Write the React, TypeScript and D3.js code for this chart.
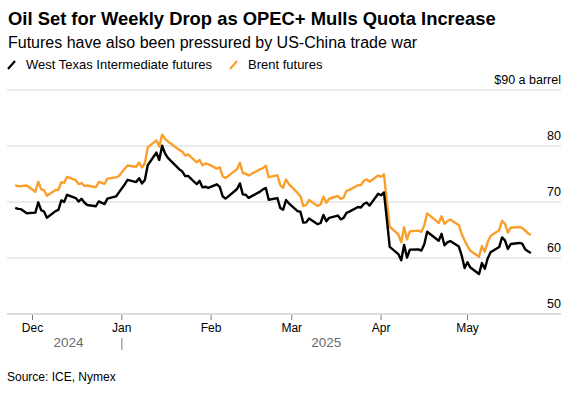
import React from "react";
import * as d3 from "d3";

// trading days, Nov 25 2024 - May 23 2025
const dates: string[] = [
  "2024-11-25", "2024-11-26", "2024-11-27", "2024-11-29",
  "2024-12-02", "2024-12-03", "2024-12-04", "2024-12-05", "2024-12-06",
  "2024-12-09", "2024-12-10", "2024-12-11", "2024-12-12", "2024-12-13",
  "2024-12-16", "2024-12-17", "2024-12-18", "2024-12-19", "2024-12-20",
  "2024-12-23", "2024-12-24", "2024-12-26", "2024-12-27", "2024-12-30", "2024-12-31",
  "2025-01-02", "2025-01-03", "2025-01-06", "2025-01-07", "2025-01-08", "2025-01-09", "2025-01-10",
  "2025-01-13", "2025-01-14", "2025-01-15", "2025-01-16", "2025-01-17",
  "2025-01-21", "2025-01-22", "2025-01-23", "2025-01-24",
  "2025-01-27", "2025-01-28", "2025-01-29", "2025-01-30", "2025-01-31",
  "2025-02-03", "2025-02-04", "2025-02-05", "2025-02-06", "2025-02-07",
  "2025-02-10", "2025-02-11", "2025-02-12", "2025-02-13", "2025-02-14",
  "2025-02-18", "2025-02-19", "2025-02-20", "2025-02-21",
  "2025-02-24", "2025-02-25", "2025-02-26", "2025-02-27", "2025-02-28",
  "2025-03-03", "2025-03-04", "2025-03-05", "2025-03-06", "2025-03-07",
  "2025-03-10", "2025-03-11", "2025-03-12", "2025-03-13", "2025-03-14",
  "2025-03-17", "2025-03-18", "2025-03-19", "2025-03-20", "2025-03-21",
  "2025-03-24", "2025-03-25", "2025-03-26", "2025-03-27", "2025-03-28",
  "2025-03-31", "2025-04-01", "2025-04-02", "2025-04-03", "2025-04-04",
  "2025-04-07", "2025-04-08", "2025-04-09", "2025-04-10", "2025-04-11",
  "2025-04-14", "2025-04-15", "2025-04-16", "2025-04-17",
  "2025-04-21", "2025-04-22", "2025-04-23", "2025-04-24", "2025-04-25",
  "2025-04-28", "2025-04-29", "2025-04-30", "2025-05-01", "2025-05-02",
  "2025-05-05", "2025-05-06", "2025-05-07", "2025-05-08", "2025-05-09",
  "2025-05-12", "2025-05-13", "2025-05-14", "2025-05-15", "2025-05-16",
  "2025-05-19", "2025-05-20", "2025-05-21", "2025-05-22", "2025-05-23",
];

const wti: number[] = [
  68.94, 68.77, 68.72, 68.0,
  68.1, 69.94, 68.54, 68.3, 67.2,
  68.37, 68.59, 70.29, 70.02, 71.29,
  70.71, 70.08, 70.58, 69.91, 69.46,
  69.24, 70.1, 69.62, 70.6, 70.99, 71.72,
  73.13, 73.96, 73.56, 74.25, 73.32, 73.92, 76.57,
  78.82, 77.5, 80.04, 78.68, 77.88,
  75.83, 75.44, 74.62, 74.66,
  73.17, 73.77, 72.62, 72.73, 72.53,
  73.16, 72.7, 71.03, 70.61, 71.0,
  72.32, 73.32, 71.37, 71.29, 70.74,
  71.85, 72.25, 72.48, 70.4,
  70.7, 68.93, 68.62, 70.35, 69.76,
  68.37, 68.26, 66.31, 66.36, 67.04,
  66.03, 66.25, 67.68, 66.55, 67.18,
  67.58, 66.9, 67.16, 68.07, 68.28,
  69.11, 69.0, 69.65, 69.92, 69.36,
  71.48, 71.2, 71.71, 66.95, 61.99,
  60.7, 59.58, 62.35, 60.07, 61.5,
  61.53, 61.33, 62.47, 64.68,
  63.08, 64.31, 62.27, 62.79, 63.02,
  62.05, 60.42, 58.21, 59.24, 58.29,
  57.13, 59.09, 58.07, 59.91, 61.02,
  61.95, 63.67, 63.15, 61.62, 62.49,
  62.69, 62.56, 61.57, 61.2, 60.9,
];

const brent: number[] = [
  73.01, 72.81, 72.83, 72.94,
  71.83, 73.62, 72.31, 72.09, 71.12,
  72.14, 72.19, 73.52, 73.41, 74.49,
  73.91, 73.19, 73.39, 72.88, 72.94,
  72.63, 73.58, 73.26, 74.17, 74.39, 74.64,
  75.93, 76.51, 76.3, 77.05, 76.16, 76.92, 79.76,
  81.01, 79.92, 82.03, 81.29, 80.79,
  79.29, 79.0, 78.29, 78.5,
  77.08, 77.49, 76.58, 76.87, 76.76,
  75.96, 76.2, 74.61, 74.29, 74.66,
  75.87, 77.0, 75.18, 75.02, 74.74,
  75.84, 76.04, 76.48, 74.43,
  74.78, 73.02, 72.53, 74.04, 73.18,
  71.62, 71.04, 69.3, 69.46, 70.36,
  69.28, 69.56, 70.95, 69.88, 70.58,
  71.07, 70.56, 70.78, 72.0, 72.16,
  73.0, 73.02, 73.79, 74.03, 73.63,
  74.74, 74.49, 74.95, 70.14, 65.58,
  64.21, 62.82, 65.48, 63.33, 64.76,
  64.88, 64.67, 65.85, 67.96,
  66.26, 67.44, 66.12, 66.55, 66.87,
  65.86, 64.25, 63.12, 62.13, 61.29,
  60.23, 62.15, 61.12, 62.84, 63.91,
  64.96, 66.63, 66.09, 64.53, 65.41,
  65.54, 65.38, 64.91, 64.44, 64.1,
];

const yTicks = [50, 60, 70, 80, 90];
const years = [
  { label: "2024", from: "2024-11-25", to: "2025-01-01" },
  { label: "2025", from: "2025-01-01", to: "2025-05-23" },
];

const WIDTH = 580;
const HEIGHT = 396;
const FONT = "'Liberation Sans', Arial, sans-serif";
const ORANGE = "#fb9f2c";

const App: React.FC = () => {
  const parse = d3.timeParse("%Y-%m-%d");
  const days = dates.map((d) => parse(d)!);

  const x = d3
    .scaleTime()
    .domain([new Date(2024, 11, 1), new Date(2025, 4, 1)])
    .range([32.5, 467.5]);
  const y = d3.scaleLinear().domain([50, 90]).range([314, 90]);

  const line = d3
    .line<number>()
    .x((_, i) => x(days[i]))
    .y((v) => y(v));

  const months = d3.timeMonth.range(new Date(2024, 11, 1), new Date(2025, 4, 2));
  const fmt = d3.timeFormat("%b");

  const gridLeft = 7;
  const gridRight = 561;

  return (
    <svg width={WIDTH} height={HEIGHT} style={{ display: "block", background: "#fff" }} fontFamily={FONT}>
      <style>{`body{margin:0}`}</style>
      <text x={8} y={25} fontSize={18.4} fontWeight="bold" fill="#000">
        Oil Set for Weekly Drop as OPEC+ Mulls Quota Increase
      </text>
      <text x={8} y={48} fontSize={16} fill="#000">
        Futures have also been pressured by US-China trade war
      </text>

      {/* legend */}
      <line x1={8} y1={69} x2={15} y2={61} stroke="#000" strokeWidth={2.2} />
      <text x={26} y={69} fontSize={13} fill="#000">West Texas Intermediate futures</text>
      <line x1={230} y1={69} x2={237} y2={61} stroke={ORANGE} strokeWidth={2.2} />
      <text x={248} y={69} fontSize={13} fill="#000">Brent futures</text>

      {/* grid */}
      {yTicks.map((t) => (
        <g key={t}>
          <line
            x1={gridLeft}
            x2={gridRight}
            y1={y(t)}
            y2={y(t)}
            stroke={t === 50 ? "#ddd" : "#d6d6d6"}
            strokeWidth={t === 50 ? 2 : 1}
          />
          <text x={gridRight} y={y(t) - 6} textAnchor="end" fontSize={12.5} fill="#000">
            {t === 90 ? "$90 a barrel" : t}
          </text>
        </g>
      ))}

      {/* x axis */}
      {months.map((m) => (
        <g key={m.toISOString()}>
          <line x1={x(m)} x2={x(m)} y1={315} y2={320} stroke="#777" strokeWidth={1} />
          <text x={x(m)} y={331.5} textAnchor="middle" fontSize={12} fill="#000">
            {fmt(m)}
          </text>
        </g>
      ))}
      {years.map((yr) => (
        <text
          key={yr.label}
          x={(x(parse(yr.from)!) + x(parse(yr.to)!)) / 2}
          y={347}
          textAnchor="middle"
          fontSize={13.5}
          fill="#6b6b6b"
        >
          {yr.label}
        </text>
      ))}
      <line
        x1={x(new Date(2025, 0, 1))}
        x2={x(new Date(2025, 0, 1))}
        y1={338}
        y2={350}
        stroke="#aaa"
        strokeWidth={1.5}
      />

      {/* series */}
      <path d={line(brent) ?? ""} fill="none" stroke={ORANGE} strokeWidth={2.4} strokeLinejoin="round" />
      <path d={line(wti) ?? ""} fill="none" stroke="#000" strokeWidth={2.4} strokeLinejoin="round" />

      <text x={7} y={381} fontSize={12} fill="#000">Source: ICE, Nymex</text>
    </svg>
  );
};

export default App;
